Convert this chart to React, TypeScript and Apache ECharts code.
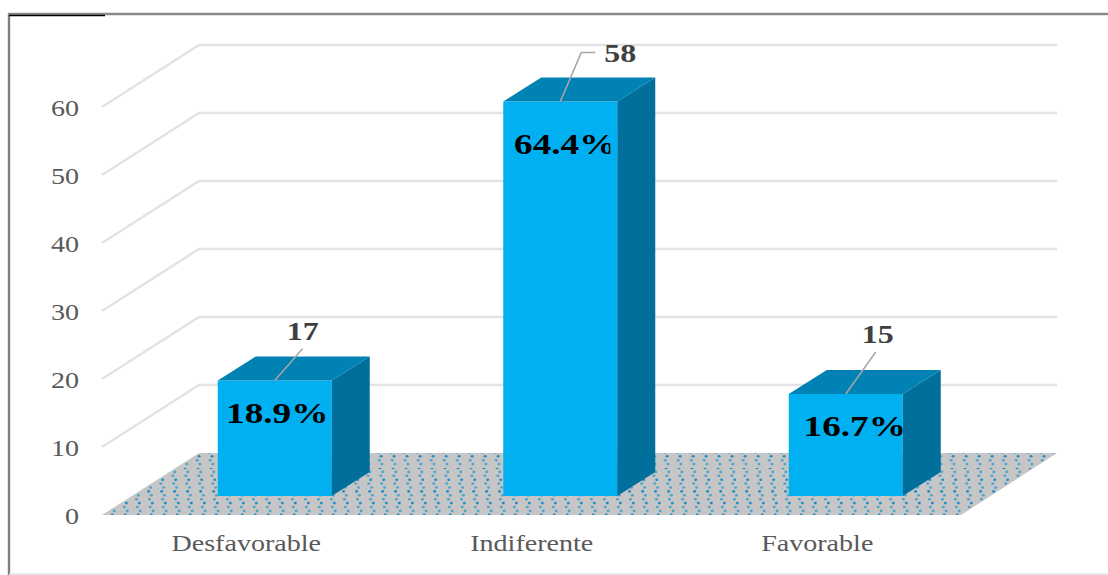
import React, { useEffect, useRef } from "react";
import * as echarts from "echarts";

const categories = ["Desfavorable", "Indiferente", "Favorable"];
const counts = [17, 58, 15];
const percents = ["18.9%", "64.4%", "16.7%"];
const ticks = [0, 10, 20, 30, 40, 50, 60];

// layout
const DEPTH = [97, -62]; // floor depth vector
const INSET = [30, -19]; // bar front plane relative to floor front edge
const SIDE = [38, -24]; // bar depth
const BAR_W = 114;
const FLOOR_EXTRA = 2.5; // floor runs slightly past the last category band
const percentOffsets = [[2.5, 33], [5, 43], [9, 33]];
const countOffsets = [[28, -49], [60, -48.5], [32, -60]];
const leaders = [
  [[0, 0], [28, -32]],
  [[0, 0], [21, -49], [35, -49]],
  [[0, 0], [30, -42]],
];
const FONT = '"Liberation Serif", serif';

function dotTexture() {
  const w = 13;
  const h = 117;
  const c = document.createElement("canvas");
  c.width = w;
  c.height = h;
  const g = c.getContext("2d")!;
  g.fillStyle = "#c6c6c6";
  g.fillRect(0, 0, w, h);
  const step = 3.9;
  for (let row = 0; row < 30; row++) {
    const y = row * step;
    const x = (y / h) * w + (row % 2 ? 2.4 : 0) + 3;
    g.fillStyle = row % 3 === 0 ? "#1f8fc4" : "#4fa5cd";
    for (const dx of [0, w, -w]) {
      g.beginPath();
      g.ellipse(x + dx, y, 1.5, 1.3, 0, 0, Math.PI * 2);
      g.fill();
    }
  }
  return c;
}

export default function App() {
  const ref = useRef<HTMLDivElement>(null);
  useEffect(() => {
    const chart = echarts.init(ref.current!, null, { renderer: "svg" });
    const texture = dotTexture();
    chart.setOption({
      animation: false,
      backgroundColor: "#ffffff",
      grid: { left: 102, top: 107, width: 856.5, height: 408 },
      xAxis: { type: "category", data: categories, show: false },
      yAxis: { type: "value", min: 0, max: 60, interval: 10, show: false },
      graphic: [
        { type: "line", shape: { x1: 9, y1: 14, x2: 9, y2: 575 }, style: { stroke: "#7f7f7f", lineWidth: 2.4 }, silent: true },
        { type: "line", shape: { x1: 8, y1: 14, x2: 1108, y2: 14 }, style: { stroke: "#8a8a8a", lineWidth: 2.4 }, silent: true },
        { type: "line", shape: { x1: 9, y1: 15.5, x2: 105, y2: 15.5 }, style: { stroke: "#000000", lineWidth: 1.6 }, silent: true },
        { type: "line", shape: { x1: 9, y1: 574, x2: 1108, y2: 574 }, style: { stroke: "#e2e2e2", lineWidth: 1.5 }, silent: true },
      ],
      series: [
        {
          // floor
          type: "custom",
          silent: true,
          data: [[0, 0]],
          encode: { x: 0, y: 1 },
          renderItem: (params: any, api: any) => {
            const cs = params.coordSys;
            const y0 = api.coord([0, 0])[1];
            const l = cs.x;
            const r = cs.x + cs.width + FLOOR_EXTRA;
            return {
              type: "polygon",
              shape: {
                points: [
                  [l, y0],
                  [r, y0],
                  [r + DEPTH[0] - 1, y0 + DEPTH[1]],
                  [l + DEPTH[0], y0 + DEPTH[1]],
                ],
              },
              style: { fill: { image: texture, repeat: "repeat", imageWidth: 13, imageHeight: 117 } },
            };
          },
        },
        {
          // grid lines on side and back walls
          type: "custom",
          silent: true,
          data: ticks.slice(1).map((t) => [0, t]),
          encode: { x: 0, y: 1 },
          renderItem: (params: any, api: any) => {
            const cs = params.coordSys;
            const y = api.coord([0, api.value(1)])[1];
            return {
              type: "polyline",
              shape: {
                points: [
                  [cs.x, y],
                  [cs.x + DEPTH[0], y + DEPTH[1]],
                  [cs.x + cs.width + FLOOR_EXTRA + DEPTH[0] - 1, y + DEPTH[1]],
                ],
              },
              style: { stroke: "#e3e3e3", lineWidth: 2.5, fill: "none" },
            };
          },
        },
        {
          // y tick labels
          type: "custom",
          silent: true,
          data: ticks.map((t) => [0, t]),
          encode: { x: 0, y: 1 },
          renderItem: (params: any, api: any) => {
            const v = api.value(1);
            const y = api.coord([0, v])[1];
            return {
              type: "text",
              x: 79,
              y: y + 1,
              scaleX: 1.17,
              style: { text: String(v), font: `24px ${FONT}`, fill: "#595959", align: "right", verticalAlign: "middle" },
            };
          },
        },
        {
          // category labels
          type: "custom",
          silent: true,
          data: categories.map((_, i) => [i, 0]),
          encode: { x: 0, y: 1 },
          renderItem: (params: any, api: any) => {
            const i = params.dataIndex;
            const p = api.coord([i, 0]);
            return {
              type: "text",
              x: p[0] + 1.5,
              y: p[1] + 28,
              scaleX: 1.17,
              style: { text: categories[i], font: `24px ${FONT}`, fill: "#595959", align: "center", verticalAlign: "middle" },
            };
          },
        },
        {
          // 3D bars
          type: "custom",
          silent: true,
          data: counts.map((v, i) => [i, v]),
          encode: { x: 0, y: 1 },
          renderItem: (params: any, api: any) => {
            const i = params.dataIndex;
            const base = api.coord([i, 0]);
            const top = api.coord([i, api.value(1)]);
            const x0 = base[0] + INSET[0] - BAR_W / 2;
            const x1 = x0 + BAR_W;
            const yb = base[1] + INSET[1];
            const yt = top[1] + INSET[1];
            const cx = (x0 + x1) / 2;
            const children: any[] = [
              { type: "rect", shape: { x: x0, y: yt, width: BAR_W, height: yb - yt }, style: { fill: "#00b0f0" } },
              {
                type: "polygon",
                shape: { points: [[x1, yt], [x1 + SIDE[0], yt + SIDE[1]], [x1 + SIDE[0], yb + SIDE[1]], [x1, yb]] },
                style: { fill: "#006f9b" },
              },
              {
                type: "polygon",
                shape: { points: [[x0, yt], [x0 + SIDE[0], yt + SIDE[1]], [x1 + SIDE[0], yt + SIDE[1]], [x1, yt]] },
                style: { fill: "#0083b4" },
              },
              {
                type: "polyline",
                shape: { points: leaders[i].map((p) => [cx + p[0], yt + p[1]]) },
                style: { stroke: "#a6a6a6", lineWidth: 1.5, fill: "none" },
              },
              {
                type: "text",
                x: cx + percentOffsets[i][0],
                y: yt + percentOffsets[i][1] - 1,
                scaleX: 1.24,
                style: { text: percents[i], font: `bold 30px ${FONT}`, fill: "#000000", align: "center", verticalAlign: "middle" },
              },
              {
                type: "text",
                x: cx + countOffsets[i][0],
                y: yt + countOffsets[i][1],
                scaleX: 1.23,
                style: { text: String(api.value(1)), font: `bold 26px ${FONT}`, fill: "#404040", align: "center", verticalAlign: "middle" },
              },
            ];
            if (i === 1) {
              // the reference cuts the last glyph of this label off inside the bar
              children.push({ type: "rect", shape: { x: x1 - 7, y: yt + 28, width: 7, height: 30 }, style: { fill: "#00b0f0" } });
            }
            return { type: "group", children };
          },
        },
      ],
    });
    return () => chart.dispose();
  }, []);
  return <div ref={ref} style={{ position: "fixed", left: 0, top: 0, width: 1108, height: 575 }} />;
}
